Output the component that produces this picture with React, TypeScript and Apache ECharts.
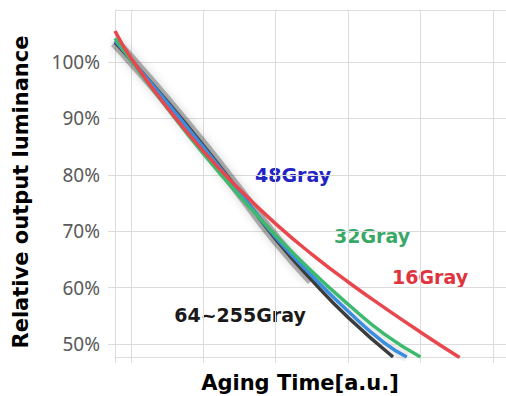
import React, { useEffect, useRef } from "react";
import * as echarts from "echarts";

// Aging time [a.u.] vs relative output luminance [%]
const gray16: [number, number][] = [
  [0.78, 105.5], [1.0, 100.7], [1.5, 91.95], [2.0, 84.2], [2.5, 77.4], [3.0, 71.3],
  [3.5, 65.9], [4.0, 61.0], [4.5, 56.45], [5.0, 52.1], [5.54, 47.6],
];
const gray32: [number, number][] = [
  [0.78, 104.2], [1.0, 100.35], [1.5, 91.85], [2.0, 83.75], [2.5, 76.25], [3.0, 69.25],
  [3.5, 62.85], [4.0, 57.05], [4.5, 51.75], [5.0, 47.7],
];
const gray48: [number, number][] = [
  [0.78, 103.8], [1.0, 100.5], [1.5, 92.8], [2.0, 84.9], [2.5, 76.9], [3.0, 68.9],
  [3.5, 62.1], [4.0, 55.8], [4.5, 50.2], [4.81, 47.7],
];
const gray64to255: [number, number][] = [
  [0.78, 103.5], [1.0, 100.4], [1.5, 93.0], [2.0, 85.2], [2.5, 77.0], [3.0, 68.6],
  [3.5, 61.3], [4.0, 54.7], [4.62, 47.7],
];
const yTicks = [50, 60, 70, 80, 90, 100];

const TITLE_FONT = "DejaVu Sans, sans-serif";

export default function App() {
  const ref = useRef<HTMLDivElement>(null);
  useEffect(() => {
    document.body.style.margin = "0";
    document.body.style.overflow = "hidden";
    const chart = echarts.init(ref.current!, null, { renderer: "svg" });
    const gridColor = "#dcdcdc";
    const lineSeries = (name: string, data: [number, number][], color: string, width: number, z: number) => ({
      name,
      type: "line",
      data,
      showSymbol: false,
      smooth: 0.5,
      z,
      lineStyle: { color, width },
      silent: true,
    });
    const label = (text: string, x: number, y: number, fill: string) => ({
      type: "text", x, y,
      style: { text, fontSize: 19, fontWeight: "bold", fill, align: "center", verticalAlign: "middle", fontFamily: TITLE_FONT },
    });
    chart.setOption({
      animation: false,
      grid: { left: 115, top: 10, right: 0, bottom: 39 },
      xAxis: {
        type: "value",
        min: 0.78,
        max: 6.65,
        splitNumber: 5,
        axisLine: { show: true, lineStyle: { color: gridColor, width: 1 } },
        axisTick: { show: true, length: 6, lineStyle: { color: gridColor } },
        axisLabel: { show: false },
        splitLine: { show: true, lineStyle: { color: gridColor, width: 1 } },
      },
      yAxis: {
        type: "value",
        min: 47.7,
        max: 109.22,
        splitNumber: 6,
        axisLine: { show: true, lineStyle: { color: gridColor, width: 1 } },
        axisTick: { show: true, length: 7, lineStyle: { color: gridColor } },
        axisLabel: {
          show: true,
          margin: 15,
          color: "#595959",
          fontSize: 19,
          fontFamily: "Noto Sans, sans-serif",
          showMinLabel: false,
          showMaxLabel: false,
          formatter: (v: number) => (yTicks.some((t) => Math.abs(t - v) < 1e-6) ? `${v}%` : ""),
        },
        splitLine: { show: true, lineStyle: { color: gridColor, width: 1 } },
      },
      series: [
        {
          type: "line",
          data: gray64to255.slice(0, 7),
          showSymbol: false,
          smooth: 0.5,
          silent: true,
          z: 1,
          lineStyle: { color: "rgba(50,50,50,0.35)", width: 11, shadowBlur: 10, shadowColor: "rgba(0,0,0,0.4)" },
        },
        {
          type: "line",
          data: gray48,
          showSymbol: false,
          smooth: 0.5,
          silent: true,
          z: 1,
          lineStyle: { color: "rgba(150,150,150,0.15)", width: 10, shadowBlur: 6, shadowColor: "rgba(0,0,0,0.15)" },
        },
        lineSeries("64~255Gray", gray64to255, "#3c3c3c", 3.5, 3),
        lineSeries("48Gray", gray48, "#3a8ee0", 3.5, 4),
        lineSeries("32Gray", gray32, "#3dba6e", 3.5, 5),
        lineSeries("16Gray", gray16, "#e8474d", 3.5, 6),
      ],
      graphic: [
        {
          type: "text", x: 21, y: 192, rotation: Math.PI / 2,
          style: { text: "Relative output luminance", fontSize: 21, fontWeight: "bold", fill: "#000", align: "center", verticalAlign: "middle", fontFamily: TITLE_FONT },
        },
        {
          type: "text", x: 300, y: 383,
          style: { text: "Aging Time[a.u.]", fontSize: 21, fontWeight: "bold", fill: "#000", align: "center", verticalAlign: "middle", fontFamily: TITLE_FONT },
        },
        label("48Gray", 293, 175, "#2323c4"),
        label("32Gray", 372, 236, "#39a867"),
        label("16Gray", 430, 277, "#e0333d"),
        label("64~255Gray", 240, 315, "#1a1a1a"),
      ],
    });
    return () => chart.dispose();
  }, []);
  return <div ref={ref} style={{ width: 540, height: 396 }} />;
}
